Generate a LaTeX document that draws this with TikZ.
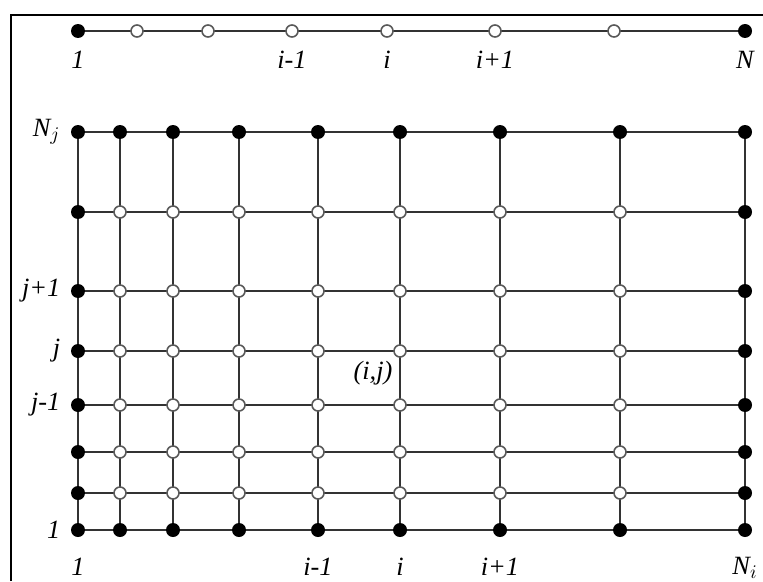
\documentclass[tikz,border=0pt]{standalone}
\usepackage{fontspec}
\setmainfont{Liberation Serif}
\usetikzlibrary{positioning,backgrounds}

\begin{document}
\begin{tikzpicture}[x=0.02cm, y=-0.02cm,
    node distance=2mm,
    full/.style={circle, fill=black, inner sep=0pt, minimum size=0.28cm},
    hollow/.style={circle, draw=black!65, fill=white, line width=0.9pt,
                   inner sep=0pt, minimum size=0.24cm},
    wire/.style={draw=black!80, line width=1.3pt},
    lab/.style={font=\fontsize{15}{17}\selectfont\itshape, inner sep=0pt}]
  \useasboundingbox (0,0) rectangle (763,581);
  \draw[line width=0.9pt] (11,581) -- (11,15) -- (763,15);
  % 1D line
  \foreach \x [count=\k] in {78,137,208,292,387,495,614,745} {
    \ifnum\k=1 \node[full] (t-\k) at (\x,31) {};
    \else\ifnum\k=8 \node[full] (t-\k) at (\x,31) {};
    \else \node[hollow] (t-\k) at (\x,31) {};
    \fi\fi
  }
  % 2D grid
  \foreach \x [count=\c] in {78,120,173,239,318,400,500,620,745} {
    \foreach \y [count=\r] in {530,493,452,405,351,291,212,132} {
      \pgfmathtruncatemacro\edge{or(or(\c==1,\c==9),or(\r==1,\r==8))}
      \ifnum\edge=1 \node[full] (g-\c-\r) at (\x,\y) {};
      \else \node[hollow] (g-\c-\r) at (\x,\y) {};
      \fi
    }
  }
  \begin{scope}[on background layer]
    \draw[wire] (t-1) -- (t-8);
    \foreach \r in {1,...,8} \draw[wire] (g-1-\r) -- (g-9-\r);
    \foreach \c in {1,...,9} \draw[wire] (g-\c-1) -- (g-\c-8);
  \end{scope}
  % labels
  \node[lab, below=2.5mm of t-1] {1};
  \node[lab, below=2.5mm of t-4] {i-1};
  \node[lab, below=2.5mm of t-5] {i};
  \node[lab, below=2.5mm of t-6] {i+1};
  \node[lab, below=2.5mm of t-8] {N};
  \node[lab, left=of g-1-8] {N$_j$};
  \node[lab, left=of g-1-6] {j+1};
  \node[lab, left=of g-1-5] {j};
  \node[lab, left=of g-1-4] {j-1};
  \node[lab, left=of g-1-1] {1};
  \node[lab, below=4mm of g-1-1] {1};
  \node[lab, below=4mm of g-5-1] {i-1};
  \node[lab, below=4mm of g-6-1] {i};
  \node[lab, below=4mm of g-7-1] {i+1};
  \node[lab, below=4mm of g-9-1] {N$_i$};
  \node[lab, below left=1mm and 0.5mm of g-6-5] {(i,j)};
\end{tikzpicture}
\end{document}
